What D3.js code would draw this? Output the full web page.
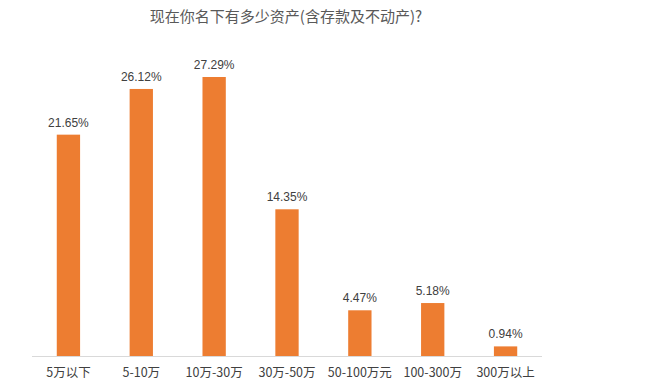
<!DOCTYPE html>
<html><head><meta charset="utf-8">
<script src="https://cdn.jsdelivr.net/npm/d3@7"></script>
<style>body{margin:0;background:#fff;}svg{display:block;}</style>
</head><body>
<svg id="c" width="648" height="390"></svg>
<script>
const titleText = "现在你名下有多少资产(含存款及不动产)?";
const categories = ["5万以下","5-10万","10万-30万","30万-50万","50-100万元","100-300万","300万以上"];
const values = [21.65, 26.12, 27.29, 14.35, 4.47, 5.18, 0.94];
const valueLabels = ["21.65%","26.12%","27.29%","14.35%","4.47%","5.18%","0.94%"];

const svg = d3.select("#c");
const font = "'Noto Sans CJK SC', 'Liberation Sans', Arial, sans-serif";
const x = d3.scaleBand().domain(categories).range([32, 542]).paddingInner(0.68).paddingOuter(0.34);
const y = d3.scaleLinear().domain([0, 27.29]).range([356, 77]);

svg.append("text").attr("x", 286).attr("y", 22).attr("text-anchor", "middle")
  .attr("font-family", font).attr("font-size", 15).attr("fill", "#595959").text(titleText);

svg.append("line").attr("x1", 32).attr("x2", 542).attr("y1", 356.5).attr("y2", 356.5)
  .attr("stroke", "#d9d9d9").attr("stroke-width", 1);

svg.selectAll("rect.bar").data(values).join("rect").attr("class", "bar")
  .attr("x", (d, i) => x(categories[i])).attr("width", x.bandwidth())
  .attr("y", d => y(d)).attr("height", d => y(0) - y(d)).attr("fill", "#ED7D31");

svg.selectAll("text.vl").data(values).join("text").attr("class", "vl")
  .attr("x", (d, i) => x(categories[i]) + x.bandwidth() / 2).attr("y", d => y(d) - 8)
  .attr("text-anchor", "middle").attr("font-family", "'Liberation Sans', Arial, sans-serif")
  .attr("font-size", 12).attr("fill", "#404040").text((d, i) => valueLabels[i]);

const ax = svg.append("g").attr("transform", "translate(0,356)")
  .call(d3.axisBottom(x).tickSize(0).tickPadding(12));
ax.select(".domain").remove();
ax.selectAll("text").attr("font-family", font).attr("font-size", 12.5).attr("fill", "#404040");
</script>
</body></html>
